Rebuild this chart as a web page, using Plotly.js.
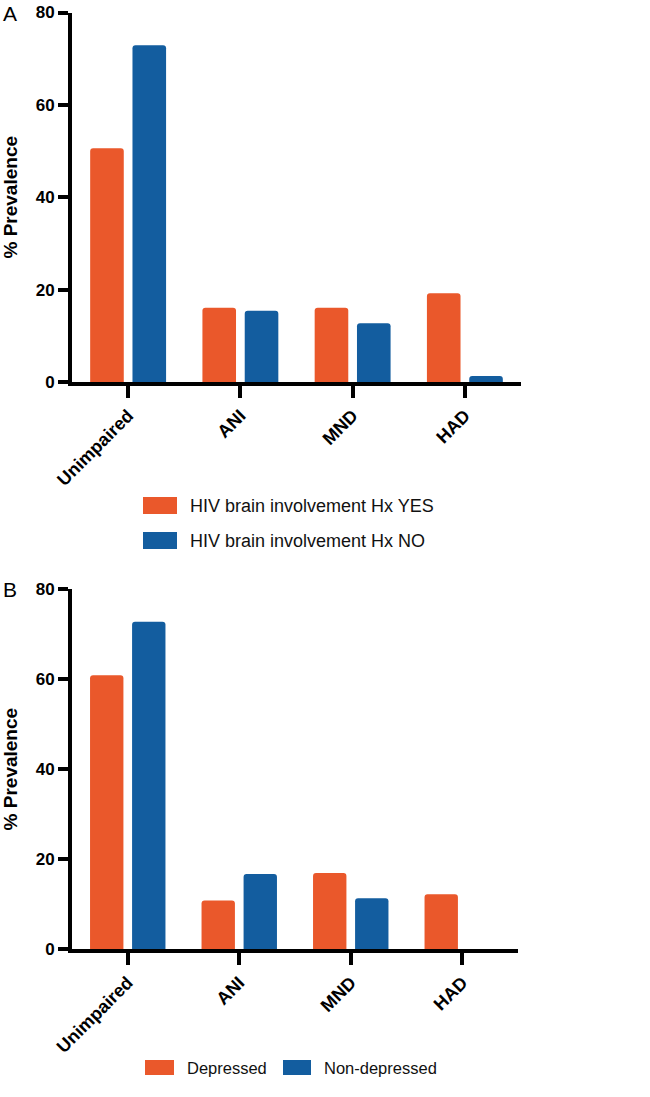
<!DOCTYPE html>
<html>
<head>
<meta charset="utf-8">
<script src="https://cdn.plot.ly/plotly-3.0.1.min.js"></script>
<style>html,body{margin:0;padding:0;background:#fff;}#chart{width:650px;height:1097px;}</style>
</head>
<body>
<div id="chart"></div>
<script>
// ---- data ----
const categories = ['Unimpaired', 'ANI', 'MND', 'HAD'];
const hivYes = [50.6, 16.1, 16.1, 19.2];
const hivNo = [72.9, 15.4, 12.7, 1.3];
const depressed = [60.9, 10.8, 16.9, 12.2];
const nonDepressed = [72.8, 16.7, 11.3, 0];
const yTicks = [0, 20, 40, 60, 80];
const legendTop = ['HIV brain involvement Hx YES', 'HIV brain involvement Hx NO'];
const legendBottom = ['Depressed', 'Non-depressed'];
const panelLabels = ['A', 'B'];
const yTitle = '% Prevalence';

// ---- style ----
const W = 650, H = 1097;
const ORANGE = '#EA582B';
const BLUE = '#135D9F';
const FONT = 'Liberation Sans, Arial, Helvetica, sans-serif';
const px = x => x / W;
const py = y => 1 - y / H;

function bar(y, name, color, xa, ya) {
  return {type: 'bar', x: categories, y: y, name: name, xaxis: xa, yaxis: ya,
    marker: {color: color, cornerradius: 3, line: {width: 0}}, showlegend: false, hoverinfo: 'x+y'};
}

const data = [
  bar(hivYes, legendTop[0], ORANGE, 'x', 'y'),
  bar(hivNo, legendTop[1], BLUE, 'x', 'y'),
  bar(depressed, legendBottom[0], ORANGE, 'x2', 'y2'),
  bar(nonDepressed, legendBottom[1], BLUE, 'x2', 'y2')
];

function xAxis(domain, anchor) {
  return {domain: domain, anchor: anchor, range: [-0.5, 3.5], showline: true, linewidth: 4, linecolor: '#000',
    ticks: 'outside', ticklen: 12, tickwidth: 4, tickcolor: '#000', tickangle: -45,
    tickfont: {family: FONT, size: 18, color: '#000', weight: 'bold'}, showgrid: false, zeroline: false, fixedrange: true};
}
function yAxis(domain, anchor) {
  return {domain: domain, anchor: anchor, range: [0, 80], tickvals: yTicks, showline: true, linewidth: 4, linecolor: '#000',
    ticks: 'outside', ticklen: 10, tickwidth: 4, tickcolor: '#000',
    tickfont: {family: FONT, size: 17, color: '#000', weight: 'bold'}, showgrid: false, zeroline: false,
    title: {text: yTitle, font: {family: FONT, size: 19, color: '#000', weight: 'bold'}, standoff: 14}, fixedrange: true};
}

const shapes = [];
const annotations = [];
function legendItem(x0, x1, y0, y1, tx, ty, text, color, size) {
  shapes.push({type: 'rect', xref: 'paper', yref: 'paper', x0: px(x0), x1: px(x1), y0: py(y1), y1: py(y0),
    fillcolor: color, line: {width: 0}});
  annotations.push({xref: 'paper', yref: 'paper', x: px(tx), y: py(ty), xanchor: 'left', yanchor: 'middle',
    text: text, showarrow: false, font: {family: FONT, size: size, color: '#111'}});
}
legendItem(143, 177, 497, 514, 188, 506, legendTop[0], ORANGE, 18);
legendItem(143, 177, 532, 549, 188, 541, legendTop[1], BLUE, 18);
legendItem(145, 174, 1060, 1075, 185, 1068, legendBottom[0], ORANGE, 16.5);
legendItem(283, 311, 1060, 1075, 322, 1068, legendBottom[1], BLUE, 16.5);

annotations.push({xref: 'paper', yref: 'paper', x: px(1), y: py(14), xanchor: 'left', yanchor: 'middle',
  text: panelLabels[0], showarrow: false, font: {family: FONT, size: 21, color: '#000'}});
annotations.push({xref: 'paper', yref: 'paper', x: px(1), y: py(589), xanchor: 'left', yanchor: 'middle',
  text: panelLabels[1], showarrow: false, font: {family: FONT, size: 21, color: '#000'}});

const layout = {
  width: W, height: H,
  margin: {l: 0, r: 0, t: 0, b: 0},
  paper_bgcolor: '#fff', plot_bgcolor: '#fff',
  barmode: 'group', bargap: 0.246, bargroupgap: 0.206,
  showlegend: false,
  xaxis: xAxis([px(72), px(521)], 'y'),
  yaxis: yAxis([py(382), py(12.5)], 'x'),
  xaxis2: xAxis([px(72), px(518)], 'y2'),
  yaxis2: yAxis([py(949), py(589.3)], 'x2'),
  shapes: shapes,
  annotations: annotations,
  font: {family: FONT}
};

Plotly.newPlot('chart', data, layout, {displayModeBar: false, staticPlot: true});
</script>
</body>
</html>
